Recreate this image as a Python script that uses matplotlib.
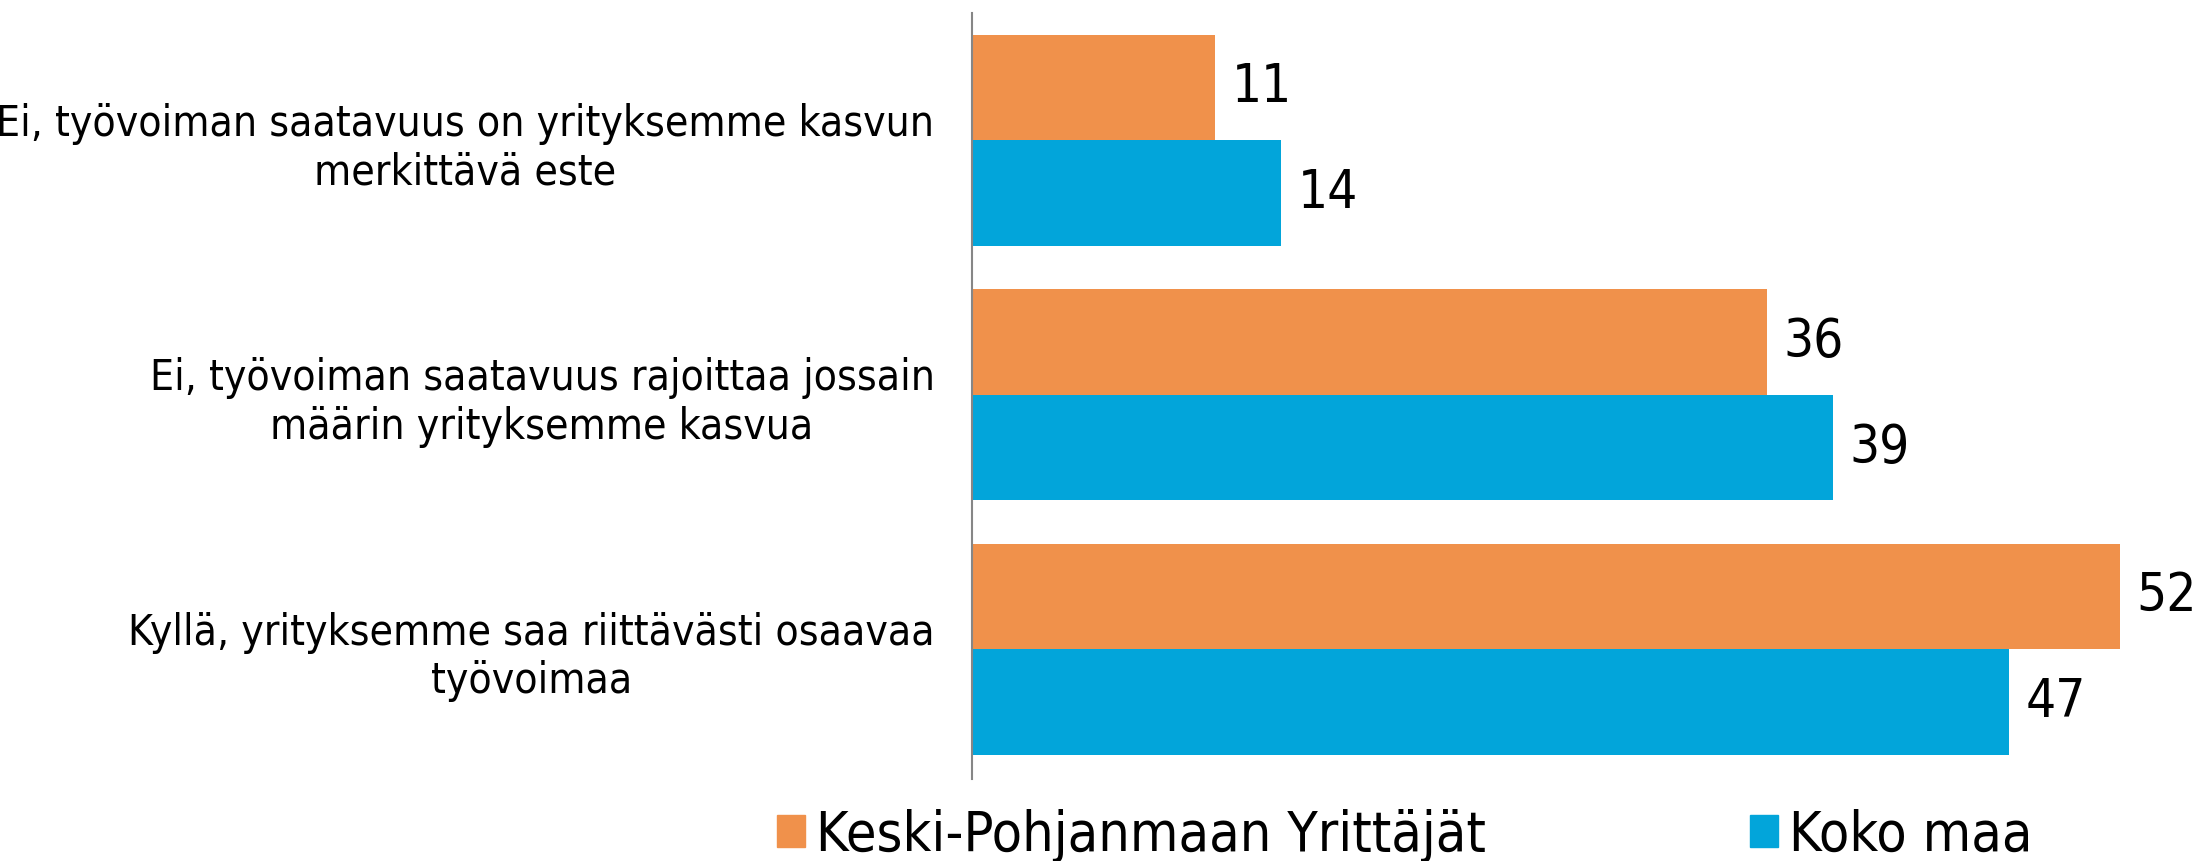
import numpy as np
import matplotlib.pyplot as plt
from matplotlib.patches import Patch
from matplotlib import font_manager

# Data
categories = [
    "Ei, työvoiman saatavuus on yrityksemme kasvun\nmerkittävä este",
    "Ei, työvoiman saatavuus rajoittaa jossain\nmäärin yrityksemme kasvua",
    "Kyllä, yrityksemme saa riittävästi osaavaa\ntyövoimaa",
]
series_names = ["Keski-Pohjanmaan Yrittäjät", "Koko maa"]
keski_pohjanmaa = [11, 36, 52]
koko_maa = [14, 39, 47]
colors = ["#F0914B", "#02A5DA"]

# narrow font if there is one, otherwise scale the normal one down
path = font_manager.findfont(font_manager.FontProperties(family="DejaVu Sans", stretch="condensed"))
if "Condensed" in path:
    plt.rcParams["font.stretch"] = "condensed"
    k = 1.0
else:
    k = 0.9
plt.rcParams["font.family"] = ["DejaVu Sans"]

fig = plt.figure(figsize=(21.97, 8.61), dpi=100)
W, H = 2197, 861
ax = fig.add_axes([972 / W, 1 - 779 / H, (2197 - 972) / W, (779 - 13) / H])

y = np.arange(len(categories))
h = 0.415
b1 = ax.barh(y - h / 2, keski_pohjanmaa, height=h, color=colors[0])
b2 = ax.barh(y + h / 2, koko_maa, height=h, color=colors[1])

for bars, vals in [(b1, keski_pohjanmaa), (b2, koko_maa)]:
    for bar, v in zip(bars, vals):
        ax.annotate(str(v), (bar.get_width(), bar.get_y() + bar.get_height() / 2),
                    xytext=(12, 0), textcoords="offset points",
                    va="center", ha="left", fontsize=38 * k, clip_on=False)

ax.set_xlim(0, 55.5)
ax.set_ylim(2.51, -0.5)
ax.set_yticks(y)
ax.set_yticklabels(categories, fontsize=30.5 * k, multialignment="center", linespacing=1.2)
ax.tick_params(axis="y", length=0, pad=27)
ax.set_xticks([])
for s in ["top", "right", "bottom"]:
    ax.spines[s].set_visible(False)
ax.spines["left"].set_color("#868686")
ax.spines["left"].set_linewidth(1.5)

handles = [Patch(color=c, label=n) for c, n in zip(colors, series_names)]
fig.legend(handles=handles, loc="center", bbox_to_anchor=(1405 / W, 1 - 836 / H),
           ncol=2, frameon=False, fontsize=40 * k, handlelength=0.5, handleheight=0.5,
           handletextpad=0.2, columnspacing=4.75, borderpad=0)

fig.savefig("out.png", dpi=100)
